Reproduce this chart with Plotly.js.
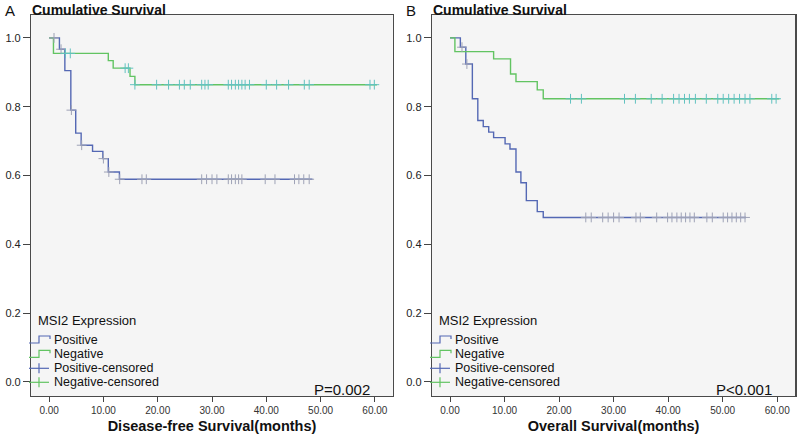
<!DOCTYPE html>
<html>
<head>
<meta charset="utf-8">
<script src="https://cdn.plot.ly/plotly-3.0.1.min.js"></script>
<style>html,body{margin:0;padding:0;background:#fff;}#chart{width:800px;height:437px;}</style>
</head>
<body>
<div id="chart"></div>
<script>
// ---- Panel A: Disease-free survival ----
const dfsPosTime = [0, 1.9, 2.9, 4.0, 4.9, 5.9, 8.0, 9.9, 10.9, 12.95, 48.5];
const dfsPosSurv = [1.0, 0.967, 0.905, 0.79, 0.723, 0.688, 0.670, 0.649, 0.610, 0.589, 0.589];
const dfsNegTime = [0, 0.8, 10.9, 11.8, 14.9, 15.8, 60.4];
const dfsNegSurv = [1.0, 0.955, 0.934, 0.912, 0.888, 0.864, 0.864];
const dfsPosCensTime = [0.9, 2.2, 4.1, 6.0, 10.0, 11.0, 13.0, 17.1, 17.9, 28.1, 29.0, 30.0, 30.9, 33.0, 33.6, 34.3, 34.9, 35.5, 39.8, 41.6, 45.2, 46.0, 46.9, 47.9];
const dfsPosCensSurv = [1.0, 0.967, 0.79, 0.688, 0.649, 0.610, 0.589, 0.589, 0.589, 0.589, 0.589, 0.589, 0.589, 0.589, 0.589, 0.589, 0.589, 0.589, 0.589, 0.589, 0.589, 0.589, 0.589, 0.589];
const dfsNegCensTime = [3.0, 3.9, 14.0, 14.6, 15.8, 19.8, 22.0, 24.0, 24.9, 26.0, 28.1, 28.7, 29.3, 33.0, 33.6, 34.3, 34.9, 35.5, 36.1, 36.9, 40.0, 41.9, 44.1, 47.0, 47.9, 59.1, 59.9];
const dfsNegCensSurv = [0.955, 0.955, 0.912, 0.912, 0.864, 0.864, 0.864, 0.864, 0.864, 0.864, 0.864, 0.864, 0.864, 0.864, 0.864, 0.864, 0.864, 0.864, 0.864, 0.864, 0.864, 0.864, 0.864, 0.864, 0.864, 0.864, 0.864];

// ---- Panel B: Overall survival ----
const osPosTime = [0, 1.9, 2.9, 4.1, 5.1, 6.1, 7.1, 8.0, 10.1, 11.0, 12.1, 13.0, 14.0, 16.0, 17.1, 54.3];
const osPosSurv = [1.0, 0.973, 0.924, 0.823, 0.760, 0.742, 0.726, 0.710, 0.692, 0.677, 0.610, 0.579, 0.527, 0.495, 0.478, 0.478];
const osNegTime = [0, 0.9, 8.0, 11.1, 12.1, 16.0, 17.1, 60.4];
const osNegSurv = [1.0, 0.960, 0.939, 0.895, 0.873, 0.849, 0.823, 0.823];
const osPosCensTime = [2.2, 3.1, 24.9, 25.9, 28.0, 29.0, 30.0, 31.0, 34.1, 34.9, 37.9, 39.9, 40.7, 41.6, 42.4, 43.2, 44.0, 44.8, 47.1, 48.1, 50.1, 50.9, 51.7, 52.5, 53.3, 54.1];
const osPosCensSurv = [0.973, 0.924, 0.478, 0.478, 0.478, 0.478, 0.478, 0.478, 0.478, 0.478, 0.478, 0.478, 0.478, 0.478, 0.478, 0.478, 0.478, 0.478, 0.478, 0.478, 0.478, 0.478, 0.478, 0.478, 0.478, 0.478];
const osNegCensTime = [22.1, 24.1, 32.0, 34.0, 36.9, 38.9, 41.0, 42.0, 43.0, 43.9, 45.0, 47.0, 49.1, 50.1, 51.1, 52.1, 53.1, 54.1, 55.0, 59.0, 59.8];
const osNegCensSurv = [0.823, 0.823, 0.823, 0.823, 0.823, 0.823, 0.823, 0.823, 0.823, 0.823, 0.823, 0.823, 0.823, 0.823, 0.823, 0.823, 0.823, 0.823, 0.823, 0.823, 0.823];

const seriesNames = ['Positive', 'Negative', 'Positive-censored', 'Negative-censored'];
const legendTitle = 'MSI2 Expression';
const xTickVals = [0, 10, 20, 30, 40, 50, 60];
const yTickVals = [0, 0.2, 0.4, 0.6, 0.8, 1.0];

const blue = '#5468b4';
const green = '#62c462';
const posCensColor = '#9ea2b6';
const negCensColor = '#62c2c0';
const W = 800, H = 437;
const font = 'Liberation Sans, Arial, sans-serif';

function stepTrace(x, y, name, color, xa, ya) {
  return {x: x, y: y, name: name, type: 'scatter', mode: 'lines',
    line: {shape: 'hv', color: color, width: 1.4}, xaxis: xa, yaxis: ya,
    showlegend: false, hoverinfo: 'skip'};
}
function censTrace(x, y, name, color, xa, ya) {
  return {x: x, y: y, name: name, type: 'scatter', mode: 'markers',
    marker: {symbol: 'cross-thin', size: 7, color: color, line: {color: color, width: 1}},
    xaxis: xa, yaxis: ya, showlegend: false, hoverinfo: 'skip'};
}

const data = [
  stepTrace(dfsPosTime, dfsPosSurv, seriesNames[0], blue, 'x', 'y'),
  stepTrace(dfsNegTime, dfsNegSurv, seriesNames[1], green, 'x', 'y'),
  censTrace(dfsPosCensTime, dfsPosCensSurv, seriesNames[2], posCensColor, 'x', 'y'),
  censTrace(dfsNegCensTime, dfsNegCensSurv, seriesNames[3], negCensColor, 'x', 'y'),
  stepTrace(osPosTime, osPosSurv, seriesNames[0], blue, 'x2', 'y2'),
  stepTrace(osNegTime, osNegSurv, seriesNames[1], green, 'x2', 'y2'),
  censTrace(osPosCensTime, osPosCensSurv, seriesNames[2], posCensColor, 'x2', 'y2'),
  censTrace(osNegCensTime, osNegCensSurv, seriesNames[3], negCensColor, 'x2', 'y2')
];

function xAxis(domain, title, anchor) {
  return {domain: domain, anchor: anchor, range: [-3.3, 63.3], tickvals: xTickVals, tickformat: '.2f',
    ticks: 'outside', ticklen: 5, tickcolor: '#444', showline: true, mirror: true, linecolor: '#4a4a4a', linewidth: 1.3,
    showgrid: false, zeroline: false, tickfont: {size: 10, color: '#333', family: font},
    title: {text: '<b>' + title + '</b>', font: {size: 14.5, color: '#111', family: font}, standoff: 5},
    automargin: false};
}
function yAxis(anchor) {
  return {domain: [0.094, 0.966], anchor: anchor, range: [-0.041, 1.067], tickvals: yTickVals, tickformat: '.1f',
    ticks: 'outside', ticklen: 7, tickcolor: '#444', showline: true, mirror: true, linecolor: '#4a4a4a', linewidth: 1.3,
    showgrid: false, zeroline: false, tickfont: {size: 11, color: '#222', family: font}, automargin: false};
}

const px = v => v / W;
const py = v => 1 - v / H;
function pth(pts) {
  return pts.map((p, i) => (i ? 'L' : 'M') + px(p[0]).toFixed(5) + ',' + py(p[1]).toFixed(5)).join(' ');
}

// Hand-made legend (SPSS style) for a panel whose legend starts at pixel offset dx
function legendParts(dx) {
  const shapes = [], annos = [];
  const rowY = [340, 354.3, 368.3, 382.3];
  const cols = [blue, green, blue, green];
  annos.push({text: legendTitle, x: px(36 + dx), y: py(320), xref: 'paper', yref: 'paper', xanchor: 'left', yanchor: 'middle',
    showarrow: false, font: {size: 13, color: '#111', family: font}});
  rowY.forEach((y, i) => {
    if (i < 2) {
      shapes.push({type: 'path', xref: 'paper', yref: 'paper', line: {color: cols[i], width: 1.2},
        path: pth([[29 + dx, y + 3], [39 + dx, y + 3], [39 + dx, y - 4], [50 + dx, y - 4], [50 + dx, y - 1]])});
    } else {
      shapes.push({type: 'path', xref: 'paper', yref: 'paper', line: {color: cols[i], width: 1.2},
        path: pth([[29 + dx, y], [49 + dx, y]])});
      shapes.push({type: 'path', xref: 'paper', yref: 'paper', line: {color: cols[i], width: 1.2},
        path: pth([[39 + dx, y - 5], [39 + dx, y + 5]])});
    }
    annos.push({text: seriesNames[i], x: px(52 + dx), y: py(y), xref: 'paper', yref: 'paper', xanchor: 'left', yanchor: 'middle',
      showarrow: false, font: {size: 12.5, color: '#111', family: font}});
  });
  return {shapes, annos};
}
const legA = legendParts(0);
const legB = legendParts(401);

const layout = {
  width: W, height: H,
  margin: {l: 0, r: 0, t: 0, b: 0},
  paper_bgcolor: '#ffffff', plot_bgcolor: '#f5f5f5',
  showlegend: false,
  xaxis: xAxis([0.039, 0.491], 'Disease-free Survival(months)', 'y'),
  yaxis: yAxis('x'),
  xaxis2: xAxis([0.54, 0.994], 'Overall Survival(months)', 'y2'),
  yaxis2: yAxis('x2'),
  shapes: legA.shapes.concat(legB.shapes),
  annotations: [
    {text: 'A', x: px(3), y: py(10), xref: 'paper', yref: 'paper', xanchor: 'left', yanchor: 'middle', showarrow: false, font: {size: 15, color: '#111', family: font}},
    {text: 'B', x: px(404), y: py(10), xref: 'paper', yref: 'paper', xanchor: 'left', yanchor: 'middle', showarrow: false, font: {size: 15, color: '#111', family: font}},
    {text: '<b>Cumulative Survival</b>', x: px(30), y: py(10), xref: 'paper', yref: 'paper', xanchor: 'left', yanchor: 'middle', showarrow: false, font: {size: 14, color: '#111', family: font}},
    {text: '<b>Cumulative Survival</b>', x: px(431), y: py(10), xref: 'paper', yref: 'paper', xanchor: 'left', yanchor: 'middle', showarrow: false, font: {size: 14, color: '#111', family: font}},
    {text: 'P=0.002', x: px(372), y: py(389), xref: 'paper', yref: 'paper', xanchor: 'right', yanchor: 'middle', showarrow: false, font: {size: 15, color: '#111', family: font}},
    {text: 'P<0.001', x: px(774), y: py(389), xref: 'paper', yref: 'paper', xanchor: 'right', yanchor: 'middle', showarrow: false, font: {size: 15, color: '#111', family: font}}
  ].concat(legA.annos, legB.annos)
};

Plotly.newPlot('chart', data, layout, {staticPlot: true, displayModeBar: false});
</script>
</body>
</html>
